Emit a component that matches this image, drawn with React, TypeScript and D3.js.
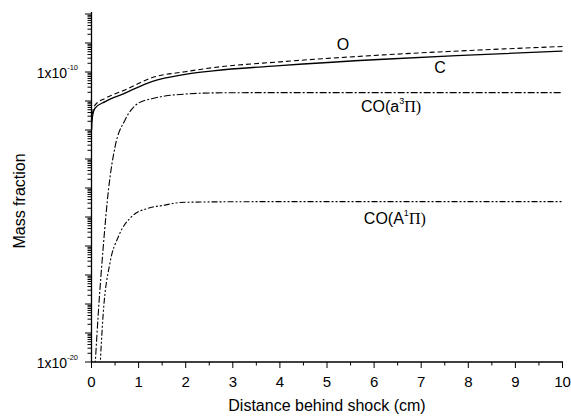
import React, { useEffect, useRef } from "react";
import * as d3 from "d3";

// log10 of mass fraction
const cX = [0, 0.01, 0.03, 0.074, 0.29, 0.71, 1.28, 1.99, 2.58, 4, 6.2, 8, 10];
const cLog = [-12, -11.7, -11.45, -11.25, -11.02, -10.73, -10.33, -10.08, -9.96, -9.78, -9.56, -9.42, -9.28];

const oX = [0, 0.01, 0.03, 0.074, 0.29, 0.71, 1.28, 1.99, 2.58, 4, 6.2, 8, 10];
const oLog = [-12, -11.6, -11.35, -11.14, -10.91, -10.62, -10.2, -9.99, -9.85, -9.65, -9.41, -9.26, -9.12];

const a3X = [0.074, 0.145, 0.25, 0.36, 0.5, 0.71, 0.99, 1.28, 1.56, 1.99, 2.6, 4, 10];
const a3Log = [-20.2, -18.3, -16.02, -14.07, -12.58, -11.66, -11.08, -10.92, -10.83, -10.76, -10.72, -10.71, -10.71];

const A1X = [0.18, 0.25, 0.39, 0.57, 0.85, 1.2, 1.56, 1.88, 2.5, 4, 10];
const A1Log = [-20.2, -18.3, -16.6, -15.68, -14.99, -14.7, -14.59, -14.5, -14.48, -14.47, -14.47];

const xTicks = [0, 1, 2, 3, 4, 5, 6, 7, 8, 9, 10];
const yLabelExps = [-10, -20];

const series = [
  { x: cX, y: cLog, dash: null },
  { x: oX, y: oLog, dash: "5,3" },
  { x: a3X, y: a3Log, dash: "7,2,2,2" },
  { x: A1X, y: A1Log, dash: "6,2,2,2,2,2" },
];

const labels = [
  { text: "O", x: 5.34, y: -9.24 },
  { text: "C", x: 7.4, y: -10.03 },
  { text: "CO(a", sup: "3", tail: "Π)", x: 6.36, y: -11.38 },
  { text: "CO(A", sup: "1", tail: "Π)", x: 6.44, y: -15.24 },
];

export default function App() {
  const ref = useRef<SVGSVGElement>(null);

  useEffect(() => {
    const svg = d3.select(ref.current);
    svg.selectAll("*").remove();
    const font = "'Liberation Sans', Arial, sans-serif";

    const x = d3.scaleLinear().domain([0, 10]).range([91.5, 562.5]);
    const y = d3.scaleLog().domain([1e-20, 1e-8]).range([362, 14]);

    svg.append("defs").append("clipPath").attr("id", "plot")
      .append("rect").attr("x", 91).attr("y", 0).attr("width", 480).attr("height", 362);

    // y axis
    const ya = svg.append("g").attr("stroke", "#000");
    ya.append("line").attr("x1", 91.5).attr("x2", 91.5).attr("y1", 12).attr("y2", 362).attr("stroke-width", 1.3);
    for (let e = -20; e < -8; e++) {
      for (let m = 1; m < 10; m++) {
        const v = m * Math.pow(10, e);
        const py = y(v);
        ya.append("line").attr("x1", 91.5).attr("x2", m === 1 ? 85 : 87.5)
          .attr("y1", py).attr("y2", py).attr("stroke-width", 1);
      }
    }
    ya.append("line").attr("x1", 91.5).attr("x2", 85).attr("y1", y(1e-8)).attr("y2", y(1e-8));

    yLabelExps.forEach((e) => {
      const py = y(Math.pow(10, e));
      const t = svg.append("text").attr("x", 78).attr("y", py + 6)
        .attr("text-anchor", "end").attr("font-family", font).attr("font-size", 14);
      t.append("tspan").text("1x10");
      t.append("tspan").attr("dy", -8).attr("font-size", 7.5).text(String(e));
    });

    // x axis
    const xa = svg.append("g").attr("stroke", "#000");
    xa.append("line").attr("x1", 91).attr("x2", 563).attr("y1", 362).attr("y2", 362).attr("stroke-width", 1.3);
    d3.range(0, 10.01, 0.5).forEach((v) => {
      const major = Math.abs(v - Math.round(v)) < 1e-6;
      xa.append("line").attr("x1", x(v)).attr("x2", x(v)).attr("y1", 362).attr("y2", major ? 368 : 365.5);
    });
    svg.append("g").selectAll("text").data(xTicks).join("text")
      .attr("x", (d) => x(d)).attr("y", 387).attr("text-anchor", "middle")
      .attr("font-family", font).attr("font-size", 15).text((d) => d);

    svg.append("text").attr("x", 327).attr("y", 411).attr("text-anchor", "middle")
      .attr("font-family", font).attr("font-size", 16).text("Distance behind shock (cm)");
    svg.append("text").attr("transform", "translate(25,201) rotate(-90)").attr("text-anchor", "middle")
      .attr("font-family", font).attr("font-size", 16).text("Mass fraction");

    // curves
    const g = svg.append("g").attr("clip-path", "url(#plot)");
    series.forEach((s) => {
      const pts = s.x.map((xv, i) => [xv, Math.pow(10, s.y[i])] as [number, number]);
      const line = d3.line<[number, number]>()
        .x((d) => x(d[0])).y((d) => y(d[1])).curve(d3.curveMonotoneX);
      g.append("path").attr("d", line(pts)).attr("fill", "none").attr("stroke", "#000")
        .attr("stroke-width", s.dash ? 1.1 : 1.3).attr("stroke-dasharray", s.dash);
    });

    labels.forEach((l) => {
      const t = svg.append("text").attr("x", x(l.x)).attr("y", y(Math.pow(10, l.y)))
        .attr("text-anchor", "middle").attr("font-family", font).attr("font-size", 16);
      t.append("tspan").text(l.text);
      if (l.sup) {
        t.append("tspan").attr("dy", -8).attr("font-size", 9).text(l.sup);
        t.append("tspan").attr("dy", 8).attr("font-family", "'Liberation Serif', serif").text(l.tail);
      }
    });
  }, []);

  return <svg ref={ref} width={571} height={418} style={{ position: "absolute", left: 0, top: 0 }} />;
}
